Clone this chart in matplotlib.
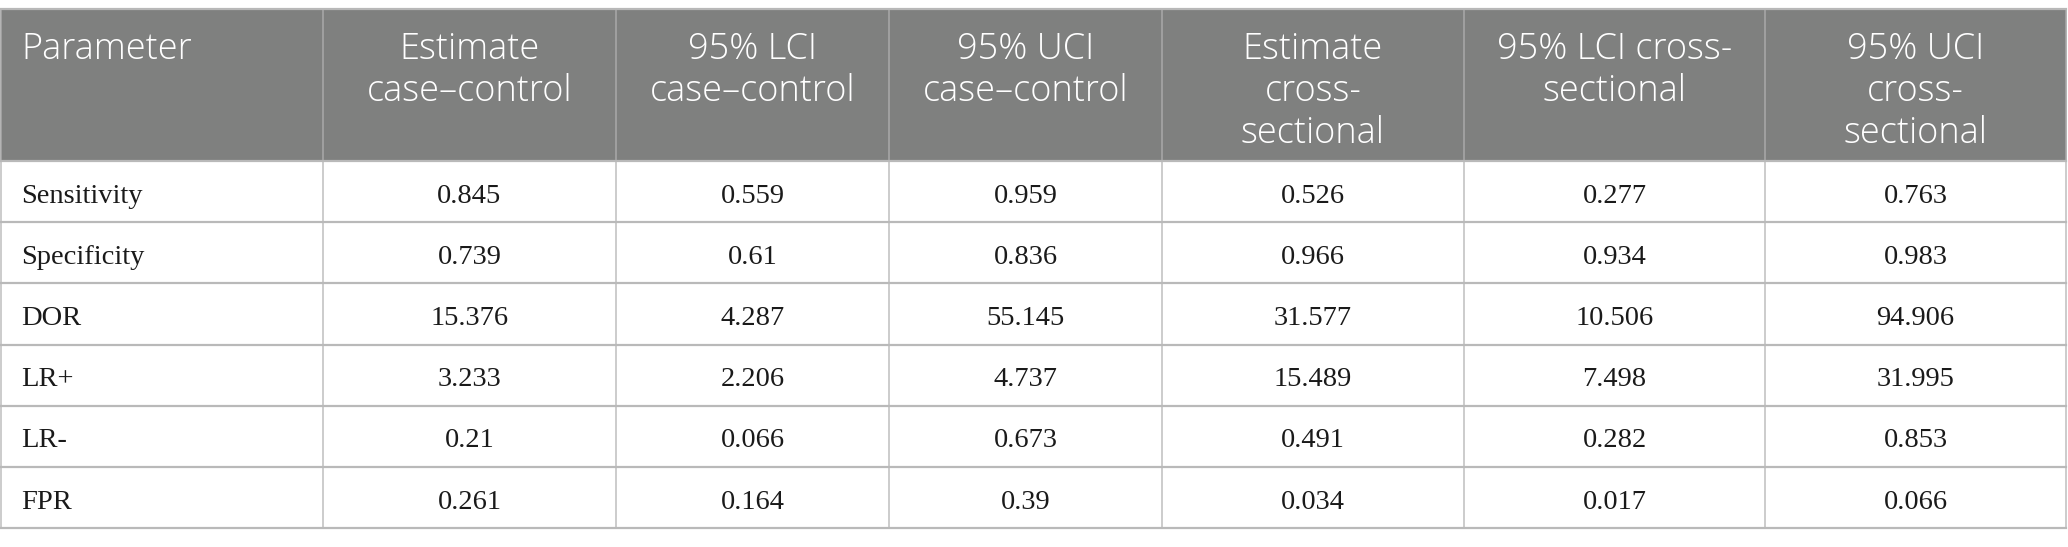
import matplotlib
matplotlib.use('Agg')
import matplotlib.pyplot as plt
from matplotlib.patches import Rectangle

# table content
headers = ['Parameter',
           'Estimate\ncase\u2013control',
           '95% LCI\ncase\u2013control',
           '95% UCI\ncase\u2013control',
           'Estimate\ncross-\nsectional',
           '95% LCI cross-\nsectional',
           '95% UCI\ncross-\nsectional']
params = ['Sensitivity', 'Specificity', 'DOR', 'LR+', 'LR-', 'FPR']
est_cc = ['0.845', '0.739', '15.376', '3.233', '0.21', '0.261']
lci_cc = ['0.559', '0.61', '4.287', '2.206', '0.066', '0.164']
uci_cc = ['0.959', '0.836', '55.145', '4.737', '0.673', '0.39']
est_cs = ['0.526', '0.966', '31.577', '15.489', '0.491', '0.034']
lci_cs = ['0.277', '0.934', '10.506', '7.498', '0.282', '0.017']
uci_cs = ['0.763', '0.983', '94.906', '31.995', '0.853', '0.066']
columns = [params, est_cc, lci_cc, uci_cc, est_cs, lci_cs, uci_cs]

W, H = 2068, 547
fig = plt.figure(figsize=(W/100, H/100), dpi=100)
ax = fig.add_axes([0, 0, 1, 1])
ax.set_xlim(0, W)
ax.set_ylim(H, 0)
ax.axis('off')

col_edges = [1, 323, 616, 889, 1162, 1464, 1765, 2066]
top = 9
head_bot = 161
row_h = 61.2
nrows = len(params)
bottom = head_bot + nrows*row_h

# header background
ax.add_patch(Rectangle((col_edges[0], top), col_edges[-1]-col_edges[0], head_bot-top,
                       facecolor='#7f807f', edgecolor='none', zorder=1))

# horizontal lines
ax.plot([col_edges[0], col_edges[-1]], [top, top], color='#b8b8b8', lw=1.6, zorder=3)
for i in range(nrows+1):
    y = head_bot + i*row_h
    ax.plot([col_edges[0], col_edges[-1]], [y, y], color='#b9b9b9', lw=1.6, zorder=3)
# vertical lines
for x in col_edges:
    ax.plot([x, x], [top, head_bot], color='#a6a6a6', lw=1.2, zorder=2)
    ax.plot([x, x], [head_bot, bottom], color='#c4c4c4', lw=1.2, zorder=2)

head_font = ['Open Sans', 'DejaVu Sans']
for j, h in enumerate(headers):
    if j == 0:
        x, ha = col_edges[0] + 20, 'left'
    else:
        x, ha = (col_edges[j] + col_edges[j+1]) / 2, 'center'
    ax.text(x, top + 22, h, ha=ha, va='top', color='white', fontsize=26,
            family=head_font, fontweight='light', linespacing=1.18, zorder=4)

for j, col in enumerate(columns):
    for i, val in enumerate(col):
        y = head_bot + (i + 0.5)*row_h + 4.5
        if j == 0:
            x, ha = col_edges[0] + 20, 'left'
        else:
            x, ha = (col_edges[j] + col_edges[j+1]) / 2, 'center'
        ax.text(x, y, val, ha=ha, va='center', color='#1a1a1a', fontsize=20.5,
                family=['Liberation Serif', 'DejaVu Serif'], zorder=4)

fig.savefig('out.png', dpi=100, facecolor='white')
